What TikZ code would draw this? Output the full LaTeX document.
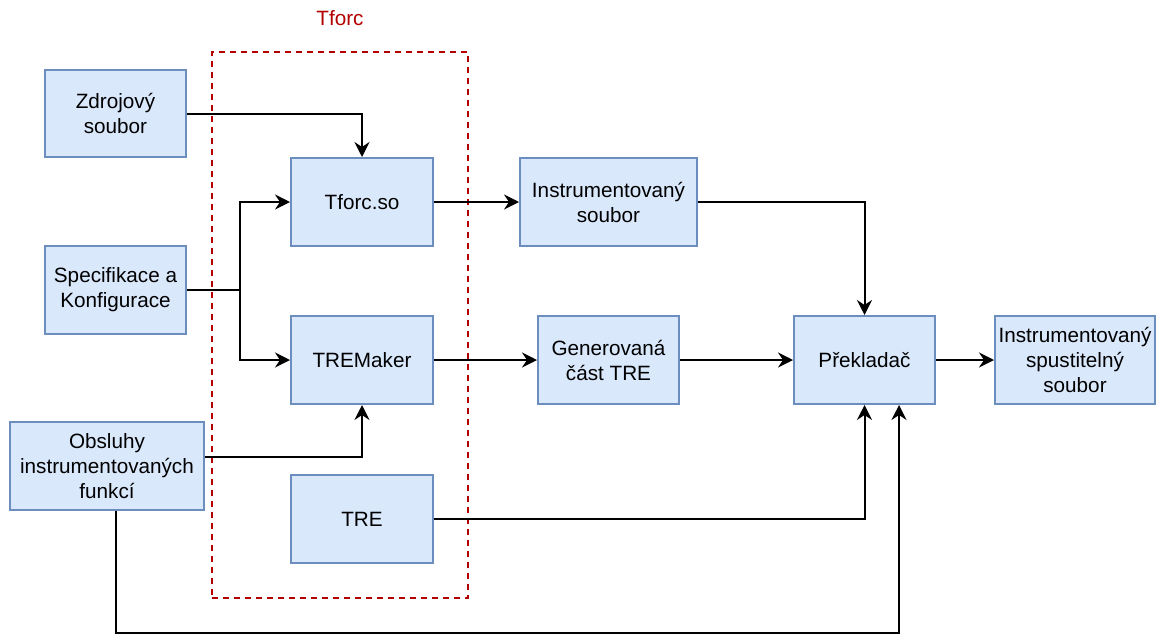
\documentclass[tikz,border=0pt]{standalone}
\usepackage{fontspec}
\setmainfont{Liberation Sans}
\usetikzlibrary{arrows.meta,calc}
\definecolor{boxfill}{HTML}{DAE8FC}
\definecolor{boxline}{HTML}{6C8EBF}
\definecolor{tred}{HTML}{B20000}
\begin{document}
\begin{tikzpicture}[x=1pt,y=-1pt,
  blk/.style={draw=boxline,fill=boxfill,line width=2pt,inner sep=0pt,align=center,
    minimum height=88pt,font=\fontsize{20.7}{25}\selectfont},
  arr/.style={draw=black,line width=2pt,-{Stealth[length=15pt,width=15pt,inset=5pt]}},
  ln/.style={draw=black,line width=2pt}]
\useasboundingbox (0,0) rectangle (1161,635);
\fill[white] (0,0) rectangle (1161,635);
% group frame
\node[draw=tred,line width=1.8pt,dash pattern=on 6pt off 5pt,minimum width=256pt,minimum height=546pt,inner sep=0pt] (grp) at (340,325) {};
\node[text=tred,font=\fontsize{20.7}{25}\selectfont] (glabel) at (340,18) {Tforc};
% boxes
\node[blk,minimum width=141pt,minimum height=87pt] (zdroj) at (115.5,113.5) {Zdrojový\\soubor};
\node[blk,minimum width=141pt] (spec) at (115.5,290) {Specifikace a\\Konfigurace};
\node[blk,minimum width=194pt] (obs) at (107,466) {Obsluhy\\instrumentovaných\\funkcí};
\node[blk,minimum width=142pt] (tso) at (362,202) {Tforc.so};
\node[blk,minimum width=142pt] (trem) at (362,360) {TREMaker};
\node[blk,minimum width=142pt] (tre) at (362,519) {TRE};
\node[blk,minimum width=177pt] (isoub) at (608.5,202) {Instrumentovaný\\soubor};
\node[blk,minimum width=141pt] (gen) at (608.5,360) {Generovaná\\část TRE};
\node[blk,minimum width=141pt] (prek) at (864.5,360) {Překladač};
\node[blk,minimum width=160pt] (spust) at (1075,360) {Instrumentovaný\\spustitelný\\soubor};
% helper coordinates
\coordinate (junc) at (240,290);
\coordinate (bot) at (899,633);
% connectors
\draw[arr] (zdroj.east) -| (tso.north);
\draw[ln] (spec.east) -- (junc);
\draw[arr] (junc) |- (tso.west);
\draw[arr] (junc) |- (trem.west);
\draw[arr] ([yshift=9pt]obs.east) -| (trem.south);
\draw[arr] (tso.east) -- (isoub.west);
\draw[arr] (isoub.east) -| (prek.north);
\draw[arr] (trem.east) -- (gen.west);
\draw[arr] (gen.east) -- (prek.west);
\draw[arr] (prek.east) -- (spust.west);
\draw[arr] (tre.east) -| (prek.south);
\draw[arr] ([xshift=9pt]obs.south) |- (bot) -- ([xshift=34.5pt]prek.south);
\end{tikzpicture}
\end{document}
